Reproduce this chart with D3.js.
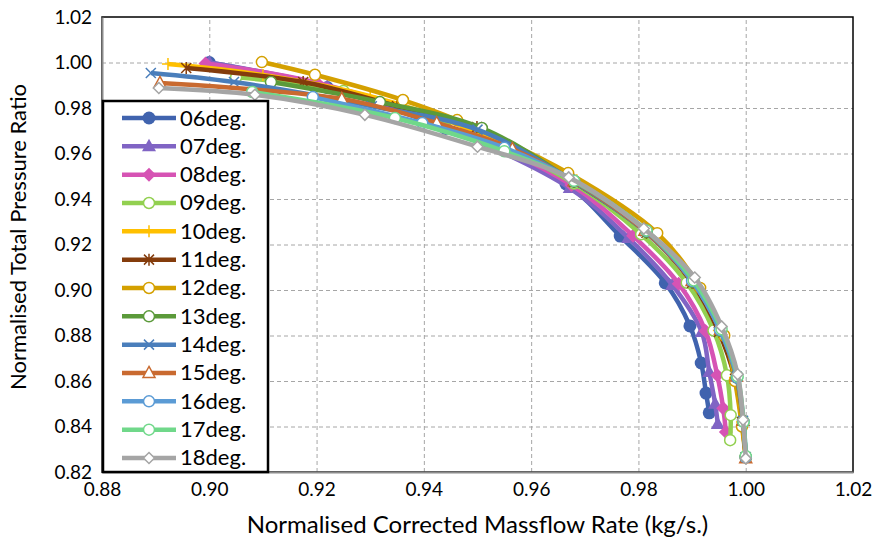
<!DOCTYPE html>
<html lang="en">
<head>
<meta charset="UTF-8">
<title>Normalised compressor map</title>
<script src="https://cdn.jsdelivr.net/npm/d3@7"></script>
<style>
  body { margin: 0; background: #fff; }
  text { font-family: Lato, "Open Sans", sans-serif; fill: #000; }
</style>
</head>
<body>
<script>

    var width = 881, height = 548;
    var margin = {left: 102, right: 28, top: 17, bottom: 76};

    // data: [massflow, pressure ratio]
    var s06 = [[0.900,1.000],[0.922,0.9890],[0.944,0.9710],[0.9665,0.9466],[0.9766,0.9237],[0.985,0.9031],[0.9896,0.8842],[0.9917,0.8679],[0.9926,0.8547],[0.9932,0.846]];
    var s07 = [[0.900,1.000],[0.922,0.9895],[0.944,0.9715],[0.9672,0.9448],[0.9781,0.9229],[0.9863,0.9022],[0.9918,0.8815],[0.9932,0.864],[0.9943,0.850],[0.9948,0.8411]];
    var s08 = [[0.8993,0.9996],[0.920,0.9912],[0.944,0.9728],[0.9675,0.9462],[0.979,0.9238],[0.9875,0.9028],[0.9925,0.882],[0.9947,0.8625],[0.9958,0.848],[0.9963,0.8376]];
    var s09 = [[0.905,0.9935],[0.925,0.9875],[0.946,0.9722],[0.968,0.9468],[0.9805,0.9245],[0.989,0.9032],[0.994,0.8822],[0.9965,0.8625],[0.9972,0.845],[0.9971,0.834]];
    var s10 = [[0.8923,0.9993],[0.910,0.9945],[0.930,0.9852],[0.948,0.9712],[0.9685,0.9482],[0.9815,0.9258],[0.990,0.9038],[0.995,0.8822],[0.998,0.8615],[0.9993,0.842],[1.000,0.827]];
    var s11 = [[0.8957,0.9976],[0.9175,0.9914],[0.935,0.9808],[0.9499,0.9716],[0.968,0.9475],[0.9815,0.9252],[0.990,0.9032],[0.995,0.8815],[0.998,0.861],[0.9993,0.842],[1.000,0.8265]];
    var s12 = [[0.9098,1.0002],[0.9197,0.9946],[0.9361,0.9835],[0.9462,0.9747],[0.9669,0.9514],[0.9835,0.925],[0.9915,0.9009],[0.996,0.880],[0.998,0.860],[0.9993,0.840],[1.000,0.8265]];
    var s13 = [[0.9115,0.9914],[0.9318,0.9826],[0.9508,0.9712],[0.968,0.9475],[0.9815,0.9255],[0.9902,0.9035],[0.9953,0.882],[0.9983,0.8615],[0.9995,0.8425],[1.000,0.8265]];
    var s14 = [[0.8891,0.9954],[0.9046,0.9914],[0.9303,0.9808],[0.950,0.9705],[0.9678,0.9478],[0.9812,0.9258],[0.990,0.904],[0.9952,0.8825],[0.9983,0.862],[0.9995,0.8425],[1.000,0.8265]];
    var s15 = [[0.8908,0.991],[0.9247,0.984],[0.9424,0.9734],[0.9565,0.962],[0.968,0.9478],[0.9812,0.926],[0.990,0.904],[0.9953,0.8825],[0.9983,0.862],[0.9995,0.8425],[1.000,0.826]];
    var s16 = [[0.9193,0.9848],[0.9397,0.9734],[0.955,0.9625],[0.968,0.948],[0.9815,0.926],[0.990,0.904],[0.9952,0.8825],[0.9984,0.8615],[0.9996,0.842],[1.000,0.8265]];
    var s17 = [[0.908,0.987],[0.9346,0.9756],[0.955,0.961],[0.968,0.948],[0.9815,0.9262],[0.9903,0.9042],[0.9955,0.8828],[0.9985,0.862],[0.9996,0.842],[1.000,0.827]];
    var s18 = [[0.8906,0.9888],[0.9085,0.9858],[0.929,0.977],[0.950,0.963],[0.967,0.9495],[0.981,0.927],[0.9905,0.9055],[0.9955,0.884],[0.9985,0.863],[0.9995,0.843],[1.000,0.826]];

    var seriesNames = ["06deg.","07deg.","08deg.","09deg.","10deg.","11deg.","12deg.","13deg.","14deg.","15deg.","16deg.","17deg.","18deg."];
    var seriesData = [s06,s07,s08,s09,s10,s11,s12,s13,s14,s15,s16,s17,s18];
    var colors = ["#4063AE","#8064C4","#D653B4","#92D050","#FFC000","#843C0C","#D4A000","#5B9A3A","#4A7EBB","#C96A30","#5B9BD5","#70D88A","#A5A5A5"];
    var markers = ["circleFill","triFill","diamondFill","circle","plus","star","circle","circle","cross","tri","circle","circle","diamond"];

    var xTicks = [0.88,0.90,0.92,0.94,0.96,0.98,1.00,1.02];
    var yTicks = [0.82,0.84,0.86,0.88,0.90,0.92,0.94,0.96,0.98,1.00,1.02];

    var xScale = d3.scaleLinear().domain([0.88, 1.02]).range([margin.left, width - margin.right]);
    var yScale = d3.scaleLinear().domain([0.82, 1.02]).range([height - margin.bottom, margin.top]);

    var svg = d3.select("body").append("svg")
        .attr("width", width)
        .attr("height", height);

    // grid
    svg.append("g")
        .attr("transform", "translate(0," + (height - margin.bottom) + ")")
        .call(d3.axisBottom(xScale).tickValues(xTicks.slice(1, -1)).tickSize(-(height - margin.top - margin.bottom)).tickFormat(""))
        .call(function (g) { g.select(".domain").remove(); })
        .selectAll("line").attr("stroke", "#a6a6a6").attr("stroke-dasharray", "4,3");
    svg.append("g")
        .attr("transform", "translate(" + margin.left + ",0)")
        .call(d3.axisLeft(yScale).tickValues(yTicks.slice(1, -1)).tickSize(-(width - margin.left - margin.right)).tickFormat(""))
        .call(function (g) { g.select(".domain").remove(); })
        .selectAll("line").attr("stroke", "#a6a6a6").attr("stroke-dasharray", "4,3");

    // plot frame
    svg.append("rect")
        .attr("x", margin.left).attr("y", margin.top)
        .attr("width", width - margin.left - margin.right)
        .attr("height", height - margin.top - margin.bottom)
        .attr("fill", "none").attr("stroke", "#000").attr("stroke-width", 1.5);

    // axes
    var xAxis = svg.append("g")
        .attr("transform", "translate(0," + (height - margin.bottom) + ")")
        .call(d3.axisBottom(xScale).tickValues(xTicks).tickSize(0).tickPadding(11).tickFormat(d3.format(".2f")));
    var yAxis = svg.append("g")
        .attr("transform", "translate(" + margin.left + ",0)")
        .call(d3.axisLeft(yScale).tickValues(yTicks).tickSize(0).tickPadding(10).tickFormat(d3.format(".2f")));
    [xAxis, yAxis].forEach(function (a) {
        a.select(".domain").attr("stroke", "#8c8c8c").attr("stroke-width", 2);
        a.selectAll("text").attr("font-size", 19).attr("font-family", "Lato, sans-serif").attr("fill", "#000");
    });

    svg.append("text")
        .attr("x", (margin.left + width - margin.right) / 2)
        .attr("y", 533)
        .attr("text-anchor", "middle")
        .attr("font-size", 24)
        .text("Normalised Corrected Massflow Rate (kg/s.)");
    svg.append("text")
        .attr("transform", "translate(26,237) rotate(-90)")
        .attr("text-anchor", "middle")
        .attr("font-size", 22)
        .text("Normalised Total Pressure Ratio");

    function drawMarker(g, type, color) {
        var s = 5.5;
        if (type === "circleFill") g.append("circle").attr("r", 6.5).attr("fill", color);
        else if (type === "circle") g.append("circle").attr("r", s).attr("fill", "#fff").attr("stroke", color).attr("stroke-width", 1.5);
        else if (type === "triFill") g.append("path").attr("d", "M0,-7.5L7,5L-7,5Z").attr("fill", color);
        else if (type === "tri") g.append("path").attr("d", "M0,-6.5L6,4.5L-6,4.5Z").attr("fill", "#fff").attr("stroke", color).attr("stroke-width", 1.5);
        else if (type === "diamondFill") g.append("path").attr("d", "M0,-7L7,0L0,7L-7,0Z").attr("fill", color);
        else if (type === "diamond") g.append("path").attr("d", "M0,-5.5L5.5,0L0,5.5L-5.5,0Z").attr("fill", "#fff").attr("stroke", color).attr("stroke-width", 1.5);
        else if (type === "plus") g.append("path").attr("d", "M-6,0H6M0,-6V6").attr("stroke", color).attr("stroke-width", 1.5);
        else if (type === "cross") g.append("path").attr("d", "M-5,-5L5,5M-5,5L5,-5").attr("stroke", color).attr("stroke-width", 1.5);
        else if (type === "star") g.append("path").attr("d", "M-5,-5L5,5M-5,5L5,-5M0,-6V6").attr("stroke", color).attr("stroke-width", 1.5);
    }

    var lineFunction = d3.line()
        .x(function (d) { return xScale(d[0]); })
        .y(function (d) { return yScale(d[1]); })
        .curve(d3.curveCatmullRom.alpha(0.5));

    var plot = svg.append("g");
    seriesData.forEach(function (data, i) {
        var g = plot.append("g");
        g.append("path")
            .attr("d", lineFunction(data))
            .attr("fill", "none")
            .attr("stroke", colors[i])
            .attr("stroke-width", 4.5);
        data.forEach(function (d) {
            var m = g.append("g").attr("transform", "translate(" + xScale(d[0]) + "," + yScale(d[1]) + ")");
            drawMarker(m, markers[i], colors[i]);
        });
    });

    // legend
    var legend = svg.append("g");
    legend.append("rect")
        .attr("x", 103).attr("y", 101).attr("width", 165).attr("height", 371)
        .attr("fill", "#fff").attr("stroke", "#000").attr("stroke-width", 2.5);
    seriesNames.forEach(function (name, i) {
        var y = 118 + i * 28.33;
        var row = legend.append("g").attr("transform", "translate(0," + y + ")");
        row.append("line").attr("x1", 122).attr("x2", 176).attr("y1", 0).attr("y2", 0)
            .attr("stroke", colors[i]).attr("stroke-width", 4.5);
        drawMarker(row.append("g").attr("transform", "translate(149,0)"), markers[i], colors[i]);
        row.append("text").attr("x", 180).attr("y", 7.5).attr("font-size", 22).text(name);
    });

</script>
</body>
</html>
